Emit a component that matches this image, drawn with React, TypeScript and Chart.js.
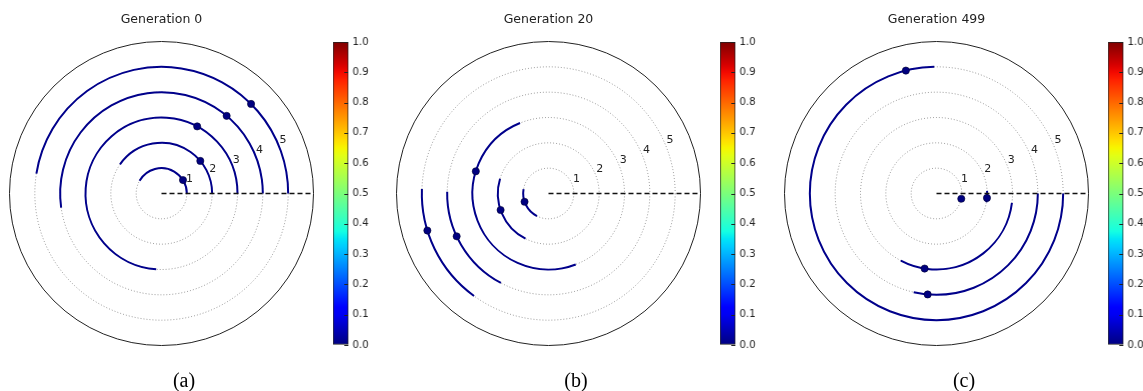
import React, { useEffect, useRef } from "react";
import { Chart, registerables } from "chart.js";

Chart.register(...registerables);

// ---------- data ----------
const ringRadii = [1, 2, 3, 4, 5];
const radialTickLabels = ["1", "2", "3", "4", "5"];
const outerRadius = 6;

const panelTitles = ["Generation 0", "Generation 20", "Generation 499"];
const panelCaptions = ["(a)", "(b)", "(c)"];

// arcs per ring (degrees, counter-clockwise from east) and point angle per ring
const gen0ArcStart = [0, 0, 0, 0, 0];
const gen0ArcEnd = [150, 145, 266, 188, 171];
const gen0PointAngle = [32, 40, 62, 50, 45];

const gen20ArcStart = [170, 163, 112, 179, 178];
const gen20ArcEnd = [243, 243, 291, 242, 234];
const gen20PointAngle = [199, 199, 163, 205, 197];

const gen499ArcStart = [341, 350, 242, 257, 91];
const gen499ArcEnd = [352, 363, 353, 360, 360];
const gen499PointAngle = [348, 355, 261, 265, 104];

const colorbarTickValues = [0.0, 0.1, 0.2, 0.3, 0.4, 0.5, 0.6, 0.7, 0.8, 0.9, 1.0];

// ---------- layout ----------
const panelCenterX = [161.5, 548.5, 936.5];
const panelCenterY = 193.5;
const panelRadius = 152;
const colorbarLeft = [333, 720, 1108];
const colorbarTop = 42;
const colorbarBottom = 345;
const captionCenterX = [184, 576, 964];

const ARC_COLOR = "#00008b";
const POINT_COLOR = "#000080";
const FONT = "'DejaVu Sans', 'Liberation Sans', sans-serif";

// matplotlib jet colormap definition
const jetR = [[0, 0], [0.35, 0], [0.66, 1], [0.89, 1], [1, 0.5]];
const jetG = [[0, 0], [0.125, 0], [0.375, 1], [0.64, 1], [0.91, 0], [1, 0]];
const jetB = [[0, 0.5], [0.11, 1], [0.34, 1], [0.65, 0], [1, 0]];
function seg(s: number[][], t: number) {
  for (let i = 0; i < s.length - 1; i++) {
    if (t <= s[i + 1][0]) {
      const f = (t - s[i][0]) / (s[i + 1][0] - s[i][0] || 1);
      return s[i][1] + f * (s[i + 1][1] - s[i][1]);
    }
  }
  return s[s.length - 1][1];
}
function jet(t: number) {
  const r = Math.round(seg(jetR, t) * 255);
  const g = Math.round(seg(jetG, t) * 255);
  const b = Math.round(seg(jetB, t) * 255);
  return `rgb(${r},${g},${b})`;
}

const rad = (d: number) => (d * Math.PI) / 180;

const polarPlugin = {
  id: "polarDecor",
  beforeDatasetsDraw(chart: any) {
    const { ctx } = chart;
    const xs = chart.scales.x;
    const ys = chart.scales.y;
    const cx = xs.getPixelForValue(0);
    const cy = ys.getPixelForValue(0);
    const unit = xs.getPixelForValue(1) - cx;
    const o = chart.options.plugins.polarDecor;
    ctx.save();
    // dotted rings
    ctx.strokeStyle = "rgba(0,0,0,0.5)";
    ctx.lineWidth = 0.8;
    ctx.setLineDash([1, 2]);
    ringRadii.forEach((r) => {
      ctx.beginPath();
      ctx.arc(cx, cy, r * unit, 0, Math.PI * 2);
      ctx.stroke();
    });
    ctx.setLineDash([]);
    // outer frame
    ctx.strokeStyle = "#222";
    ctx.lineWidth = 1;
    ctx.beginPath();
    ctx.arc(cx, cy, outerRadius * unit, 0, Math.PI * 2);
    ctx.stroke();
    // radial labels
    ctx.fillStyle = "#222";
    ctx.font = `11px ${FONT}`;
    ctx.textAlign = "left";
    ctx.textBaseline = "bottom";
    ringRadii.forEach((r, i) => {
      const px = xs.getPixelForValue(r * Math.cos(rad(22.5)));
      const py = ys.getPixelForValue(r * Math.sin(rad(22.5)));
      ctx.fillText(radialTickLabels[i], px + 1, py + 1);
    });
    // arcs
    ctx.strokeStyle = ARC_COLOR;
    ctx.lineWidth = 2;
    ringRadii.forEach((r, i) => {
      ctx.beginPath();
      ctx.arc(cx, cy, r * unit, -rad(o.arcEnd[i]), -rad(o.arcStart[i]));
      ctx.stroke();
    });
    ctx.restore();
  },
};

function PolarPanel({ idx, arcStart, arcEnd, pointAngle }: any) {
  const ref = useRef<HTMLCanvasElement>(null);
  useEffect(() => {
    const cx = panelCenterX[idx] - 381 * idx;
    const padLeft = cx - panelRadius;
    const padRight = 381 - (cx + panelRadius);
    const padTop = panelCenterY - panelRadius;
    const padBottom = 391 - (panelCenterY + panelRadius);
    const points = ringRadii.map((r, i) => ({
      x: r * Math.cos(rad(pointAngle[i])),
      y: r * Math.sin(rad(pointAngle[i])),
    }));
    const chart = new Chart(ref.current!, {
      type: "scatter",
      data: {
        datasets: [
          {
            data: [
              { x: 0, y: 0 },
              { x: outerRadius, y: 0 },
            ],
            showLine: true,
            borderColor: "#111",
            borderWidth: 1.3,
            borderDash: [5, 3],
            pointRadius: 0,
            clip: false,
          } as any,
          {
            data: points,
            backgroundColor: POINT_COLOR,
            borderColor: "#000033",
            borderWidth: 0.6,
            pointRadius: 3.6,
            clip: false,
          } as any,
        ],
      },
      options: {
        animation: false,
        responsive: false,
        layout: { padding: { left: padLeft, right: padRight, top: padTop, bottom: padBottom } },
        scales: {
          x: { type: "linear", min: -outerRadius, max: outerRadius, display: false },
          y: { type: "linear", min: -outerRadius, max: outerRadius, display: false },
        },
        plugins: {
          legend: { display: false },
          tooltip: { enabled: false },
          polarDecor: { arcStart, arcEnd },
        } as any,
      },
      plugins: [polarPlugin],
    });
    return () => chart.destroy();
  }, []);
  return (
    <canvas
      ref={ref}
      width={381}
      height={391}
      style={{ position: "absolute", left: 381 * idx, top: 0, width: 381, height: 391 }}
    />
  );
}

const cbTickPlugin = {
  id: "cbTicks",
  afterDatasetsDraw(chart: any) {
    const { ctx, chartArea } = chart;
    const ys = chart.scales.y;
    ctx.save();
    ctx.strokeStyle = "#222";
    ctx.lineWidth = 1;
    colorbarTickValues.forEach((v) => {
      const py = Math.round(ys.getPixelForValue(v)) + 0.5;
      ctx.beginPath();
      ctx.moveTo(chartArea.right - 4, py);
      ctx.lineTo(chartArea.right, py);
      ctx.stroke();
    });
    ctx.restore();
  },
};

function Colorbar({ idx }: any) {
  const ref = useRef<HTMLCanvasElement>(null);
  const barW = 15.5;
  const axisW = 32;
  const padL = 2;
  const W = padL + barW + axisW;
  useEffect(() => {
    const chart = new Chart(ref.current!, {
      type: "bar",
      data: {
        labels: ["cb"],
        datasets: [
          {
            data: [[0, 1]],
            backgroundColor: (c: any) => {
              const { ctx, chartArea } = c.chart;
              if (!chartArea) return "#000080";
              const g = ctx.createLinearGradient(0, chartArea.bottom, 0, chartArea.top);
              for (let i = 0; i <= 40; i++) g.addColorStop(i / 40, jet(i / 40));
              return g;
            },
            borderColor: "#222",
            borderWidth: 1,
            borderSkipped: false,
            barPercentage: 1,
            categoryPercentage: 1,
          } as any,
        ],
      },
      options: {
        animation: false,
        responsive: false,
        layout: { padding: { left: padL, right: 0, top: colorbarTop, bottom: 391 - colorbarBottom } },
        scales: {
          x: { display: false },
          y: {
            position: "right",
            min: 0,
            max: 1,
            afterFit: (s: any) => {
              s.width = axisW;
            },
            afterBuildTicks: (s: any) => {
              s.ticks = colorbarTickValues.map((v) => ({ value: v }));
            },
            ticks: {
              callback: (v: any) => Number(v).toFixed(1),
              font: { family: FONT, size: 10 },
              color: "#222",
              padding: 4,
            },
            grid: { drawOnChartArea: false, drawTicks: false },
            border: { display: false },
          },
        },
        plugins: { legend: { display: false }, tooltip: { enabled: false } },
      },
      plugins: [cbTickPlugin],
    });
    return () => chart.destroy();
  }, []);
  return (
    <canvas
      ref={ref}
      width={W}
      height={391}
      style={{ position: "absolute", left: colorbarLeft[idx] - padL, top: 0, width: W, height: 391 }}
    />
  );
}

export default function App() {
  useEffect(() => {
    document.body.style.margin = "0";
  }, []);
  const arcs = [
    [gen0ArcStart, gen0ArcEnd, gen0PointAngle],
    [gen20ArcStart, gen20ArcEnd, gen20PointAngle],
    [gen499ArcStart, gen499ArcEnd, gen499PointAngle],
  ];
  return (
    <div style={{ position: "relative", width: 1143, height: 391, background: "#fff", overflow: "hidden" }}>
      {arcs.map((a, i) => (
        <React.Fragment key={i}>
          <PolarPanel idx={i} arcStart={a[0]} arcEnd={a[1]} pointAngle={a[2]} />
          <Colorbar idx={i} />
          <div
            style={{
              position: "absolute",
              left: panelCenterX[i] - 100,
              width: 200,
              top: 11,
              textAlign: "center",
              font: `12.5px ${FONT}`,
              color: "#222",
              lineHeight: "16px",
            }}
          >
            {panelTitles[i]}
          </div>
          <div
            style={{
              position: "absolute",
              left: captionCenterX[i] - 50,
              width: 100,
              top: 368,
              textAlign: "center",
              font: "20px 'Liberation Serif', 'DejaVu Serif', serif",
              color: "#000",
              lineHeight: "24px",
            }}
          >
            {panelCaptions[i]}
          </div>
        </React.Fragment>
      ))}
    </div>
  );
}
